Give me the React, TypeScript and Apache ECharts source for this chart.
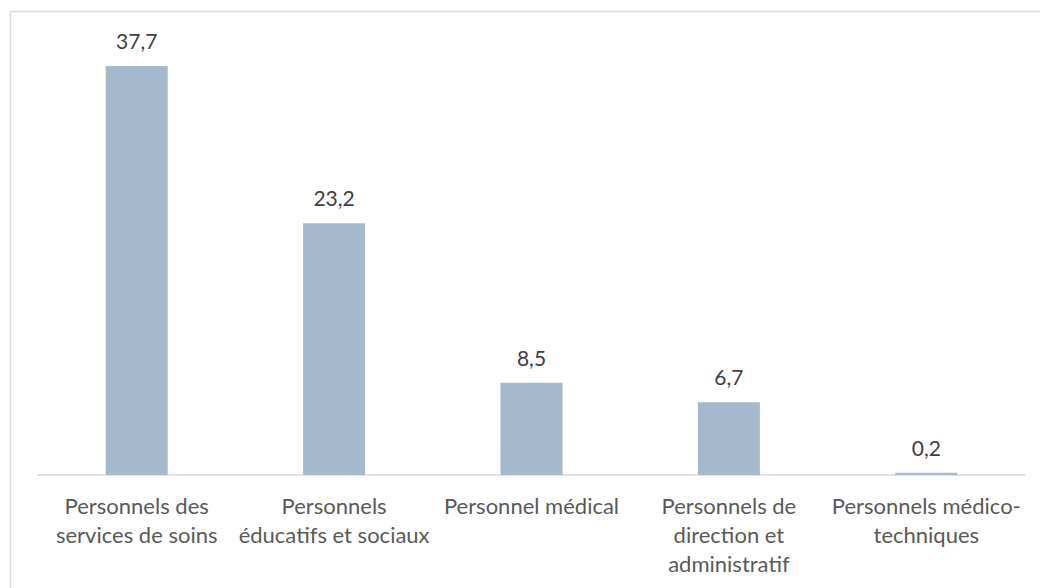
import React, { useEffect, useRef } from "react";
import * as echarts from "echarts";

const categories = [
  "Personnels des\nservices de soins",
  "Personnels\néducatifs et sociaux",
  "Personnel médical",
  "Personnels de\ndirection et\nadministratif",
  "Personnels médico-\ntechniques",
];
const values = [37.7, 23.2, 8.5, 6.7, 0.2];

export default function App() {
  const ref = useRef<HTMLDivElement>(null);
  useEffect(() => {
    const chart = echarts.init(ref.current!, undefined, { renderer: "svg" });
    chart.setOption({
      animation: false,
      backgroundColor: "#ffffff",
      graphic: [
        {
          type: "rect",
          shape: { x: 10.5, y: 11.5, width: 1100, height: 700 },
          style: { fill: "none", stroke: "#d9d9d9", lineWidth: 1.5 },
          silent: true,
        },
      ],
      grid: { left: 38, right: 15, top: 41, bottom: 113, containLabel: false },
      xAxis: {
        type: "category",
        data: categories,
        axisLine: { show: true, lineStyle: { color: "#d9d9d9", width: 1.5 } },
        axisTick: { show: false },
        axisLabel: {
          interval: 0,
          color: "#595959",
          fontFamily: "Lato",
          fontSize: 22,
          lineHeight: 29,
          margin: 16,
        },
      },
      yAxis: {
        type: "value",
        min: 0,
        max: 40,
        show: false,
        splitLine: { show: false },
      },
      series: [
        {
          type: "bar",
          data: values,
          barWidth: 62,
          itemStyle: { color: "#a5b9cc" },
          label: {
            show: true,
            position: "top",
            distance: 15,
            color: "#404040",
            fontFamily: "Lato",
            fontSize: 21,
            formatter: (p: any) => String(p.value).replace(".", ","),
          },
        },
      ],
    });
    return () => chart.dispose();
  }, []);
  return (
    <div
      ref={ref}
      style={{ position: "fixed", left: 0, top: 0, width: 1040, height: 588 }}
    />
  );
}
